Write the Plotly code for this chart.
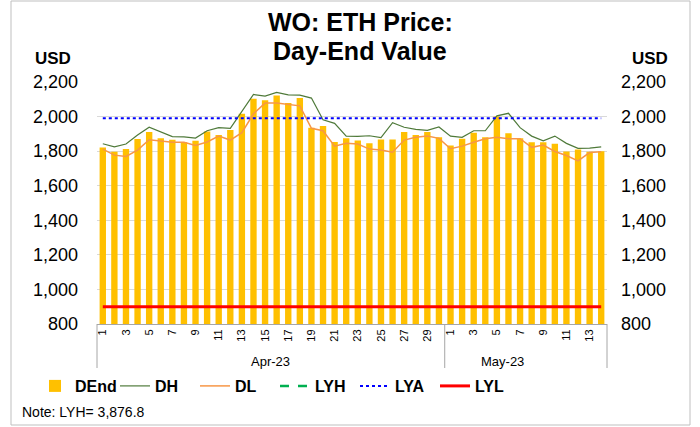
import plotly.graph_objects as go

# ---- data ----
days = [1, 2, 3, 4, 5, 6, 7, 8, 9, 10, 11, 12, 13, 14, 15, 16, 17, 18, 19, 20,
        21, 22, 23, 24, 25, 26, 27, 28, 29, 30,
        1, 2, 3, 4, 5, 6, 7, 8, 9, 10, 11, 12, 13, 14]
months = ["Apr-23"] * 30 + ["May-23"] * 14
month_labels = ["Apr-23", "May-23"]

d_end = [1821, 1796, 1812, 1870, 1911, 1874, 1866, 1851, 1860, 1913, 1893, 1922, 2016, 2103, 2095,
         2122, 2078, 2107, 1936, 1946, 1853, 1874, 1862, 1845, 1868, 1868, 1911, 1893, 1911, 1880,
         1833, 1872, 1907, 1880, 2000, 1903, 1874, 1851, 1851, 1843, 1798, 1810, 1796, 1800]
d_high = [1843, 1825, 1841, 1893, 1938, 1913, 1884, 1882, 1876, 1918, 1936, 1932, 2029, 2128, 2118,
          2140, 2126, 2124, 2107, 1981, 1961, 1887, 1886, 1889, 1878, 1965, 1938, 1926, 1920, 1940,
          1887, 1880, 1918, 1918, 2004, 2019, 1936, 1887, 1860, 1887, 1845, 1816, 1818, 1825]
d_low = [1812, 1777, 1769, 1806, 1866, 1858, 1851, 1851, 1833, 1853, 1887, 1864, 1907, 2016, 2078,
         2078, 2068, 2062, 1932, 1918, 1829, 1845, 1841, 1812, 1806, 1794, 1864, 1880, 1887, 1874,
         1814, 1829, 1851, 1872, 1880, 1872, 1872, 1822, 1835, 1798, 1775, 1744, 1792, 1796]
LYH = 3876.8
LYA = 1990
LYL = 900

y_ticks = [800, 1000, 1200, 1400, 1600, 1800, 2000, 2200]

# ---- positions ----
xs = list(range(len(days)))
n = len(days)
tick_idx = [i for i in xs if days[i] % 2 == 1]
tick_txt = [str(days[i]) for i in tick_idx]

FONT = "Liberation Sans, Arial, sans-serif"
W, H = 700, 427
ML, MR, MT, MB = 97, 93, 82, 103
PW, PH = W - ML - MR, H - MT - MB


def px(xp):
    return (xp - ML) / PW


def py(yp):
    return (H - MB - yp) / PH


fig = go.Figure()
fig.add_trace(go.Bar(x=xs, y=d_end, name="DEnd", marker=dict(color="#FFC000", line=dict(width=0)),
                     width=0.55))
fig.add_trace(go.Scatter(x=xs, y=d_high, name="DH", mode="lines",
                         line=dict(color="#4F7A3A", width=1.2)))
fig.add_trace(go.Scatter(x=xs, y=d_low, name="DL", mode="lines",
                         line=dict(color="#F79646", width=1.5)))
fig.add_trace(go.Scatter(x=xs, y=[LYH] * n, name="LYH", mode="lines", yaxis="y2",
                         line=dict(color="#00B050", width=2.5, dash="dash")))
fig.add_trace(go.Scatter(x=xs, y=[LYA] * n, name="LYA", mode="lines", yaxis="y2",
                         line=dict(color="#0000FF", width=2, dash="dot")))
fig.add_trace(go.Scatter(x=xs, y=[LYL] * n, name="LYL", mode="lines", yaxis="y2",
                         line=dict(color="#FF0000", width=3)))

yr = [y_ticks[0], y_ticks[-1]]
fig.update_layout(
    width=W, height=H, autosize=False,
    margin=dict(l=ML, r=MR, t=MT, b=MB),
    paper_bgcolor="white", plot_bgcolor="white",
    font=dict(family=FONT, color="black"),
    showlegend=True,
    bargap=0.45,
    xaxis=dict(range=[-0.5, n - 0.5], tickmode="array", tickvals=tick_idx, ticktext=tick_txt,
               tickangle=-90, tickfont=dict(size=11), showgrid=False, zeroline=False,
               showline=True, linecolor="#A6A6A6", linewidth=1, ticks="", automargin=False),
    yaxis=dict(range=yr, tickmode="array", tickvals=y_ticks, tickformat=",",
               tickfont=dict(size=18), gridcolor="#D9D9D9", gridwidth=1, zeroline=False,
               showline=False, ticks="", ticklabelstandoff=18, automargin=False),
    yaxis2=dict(range=yr, overlaying="y", side="right", tickmode="array", tickvals=y_ticks,
                tickformat=",", tickfont=dict(size=18), showgrid=False, zeroline=False,
                showline=False, ticks="", ticklabelstandoff=13, automargin=False),
    legend=dict(orientation="h", x=px(35), xanchor="left", y=py(386), yanchor="middle",
                font=dict(size=16, family=FONT, weight="bold"), entrywidth=35,
                entrywidthmode="pixels", bgcolor="rgba(0,0,0,0)", traceorder="normal"),
)

anns = [
    dict(text="<b>WO: ETH Price:</b>", x=px(360), y=py(22), font=dict(size=25)),
    dict(text="<b>Day-End Value</b>", x=px(360), y=py(51), font=dict(size=25)),
    dict(text="<b>USD</b>", x=px(52.5), y=py(58), font=dict(size=17)),
    dict(text="<b>USD</b>", x=px(649.5), y=py(58), font=dict(size=17)),
    dict(text="Note: LYH= 3,876.8", x=px(20), y=py(412), xanchor="left", font=dict(size=14)),
]
for a in anns:
    fig.add_annotation(xref="paper", yref="paper", showarrow=False,
                       xanchor=a.get("xanchor", "center"), yanchor="middle",
                       x=a["x"], y=a["y"], text=a["text"],
                       font=dict(family=FONT, color="black", size=a["font"]["size"]))

# month group labels and dividers
for m in month_labels:
    idx = [i for i in xs if months[i] == m]
    fig.add_annotation(xref="paper", yref="paper", showarrow=False, text=m,
                       x=(idx[0] + idx[-1] + 1) / 2 / n, y=py(361.5), yanchor="middle",
                       font=dict(family=FONT, size=13, color="black"))
bounds = [0] + [i for i in xs[1:] if months[i] != months[i - 1]] + [n]
for b in bounds:
    fig.add_shape(type="line", xref="paper", yref="paper", x0=b / n, x1=b / n,
                  y0=0, y1=py(368), line=dict(color="#A6A6A6", width=1))

# chart border
fig.add_shape(type="rect", xref="paper", yref="paper", x0=px(11), x1=px(690),
              y0=py(425), y1=py(1), line=dict(color="#BFBFBF", width=1), layer="below")

fig.write_html("out.html", config={"displayModeBar": False},
               post_script="document.body.style.margin='0';document.body.style.overflow='hidden';")
